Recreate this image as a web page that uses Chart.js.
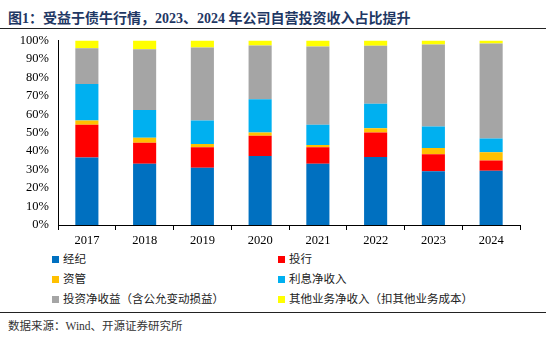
<!DOCTYPE html>
<html>
<head>
<meta charset="utf-8">
<script src="https://cdn.jsdelivr.net/npm/chart.js@4/dist/chart.umd.min.js"></script>
<style>
  body { margin: 0; background: #fff; }
  #wrap { position: relative; width: 550px; height: 341px; overflow: hidden; font-family: "Liberation Serif", "Noto Sans CJK SC", serif; }
  #title { position: absolute; left: 8px; top: 10px; font-size: 14px; font-weight: bold; color: #1F3864; white-space: nowrap; line-height: 18px; }
  .rule { position: absolute; left: 0; width: 546px; height: 1px; background: #222; }
  #chartBox { position: absolute; left: 0; top: 24px; width: 550px; height: 226px; }
  #legend { position: absolute; left: 52px; top: 250px; width: 480px; }
  .item { position: absolute; display: flex; align-items: center; font-size: 11.5px; color: #222; white-space: nowrap; line-height: 14px; }
  .box { width: 7px; height: 7px; margin-right: 4px; }
  #source { position: absolute; left: 8px; top: 317px; font-size: 11.5px; color: #333; white-space: nowrap; }
</style>
</head>
<body>
<div id="wrap">
  <div id="title">图1：受益于债牛行情，2023、2024 年公司自营投资收入占比提升</div>
  <div id="chartBox"><canvas id="myChart"></canvas></div>
  <div class="rule" style="top:28px"></div>
  <div id="legend"></div>
  <div class="rule" style="top:312px"></div>
  <div id="source">数据来源：Wind、开源证券研究所</div>
</div>
<script>
'use strict';

// categories and series (% of revenue)
let years = ['2017', '2018', '2019', '2020', '2021', '2022', '2023', '2024'];
let brokerage = [36.6, 33.2, 31.0, 37.4, 33.2, 36.8, 29.1, 29.4];
let banking = [17.7, 11.4, 11.1, 11.0, 9.0, 13.4, 9.3, 5.6];
let assetMgmt = [2.4, 2.7, 1.8, 1.8, 1.1, 2.3, 3.3, 4.4];
let interest = [19.7, 15.0, 12.8, 18.0, 11.0, 13.2, 11.7, 7.5];
let investment = [19.4, 33.0, 39.5, 29.1, 42.5, 31.4, 44.4, 51.5];
let other = [4.2, 4.7, 3.8, 2.7, 3.2, 2.9, 2.2, 1.6];

let seriesNames = ['经纪', '投行', '资管', '利息净收入', '投资净收益（含公允变动损益）', '其他业务净收入（扣其他业务成本）'];
let seriesData = [brokerage, banking, assetMgmt, interest, investment, other];
let seriesColors = ['#0070C0', '#FF0000', '#FFC000', '#00B0F0', '#A5A5A5', '#FFFF00'];

let yTicks = [0, 10, 20, 30, 40, 50, 60, 70, 80, 90, 100];

let datasets = [];
for (let i = 0; i < seriesNames.length; i++) {
  datasets.push({
    label: seriesNames[i],
    data: seriesData[i],
    backgroundColor: seriesColors[i],
    borderWidth: 0,
    barPercentage: 0.8,
    categoryPercentage: 0.5
  });
}

let tickFont = { family: '"Liberation Serif", "Times New Roman", serif', size: 12.5 };

let ctx = document.getElementById('myChart').getContext('2d');
new Chart(ctx, {
  type: 'bar',
  data: { labels: years, datasets: datasets },
  options: {
    responsive: true,
    maintainAspectRatio: false,
    animation: false,
    layout: { padding: { top: 4, right: 30, bottom: 0, left: 0 } },
    plugins: { legend: { display: false }, tooltip: { enabled: false } },
    scales: {
      x: {
        stacked: true,
        grid: { display: true, drawOnChartArea: false, offset: true, tickLength: 5, color: '#000' },
        border: { color: '#000', width: 1 },
        ticks: { color: '#000', font: tickFont, padding: 3 },
        afterFit: function (scale) { scale.height = 25; }
      },
      y: {
        stacked: true,
        min: 0,
        max: 100,
        grid: { display: false, drawTicks: false },
        border: { color: '#000', width: 1 },
        afterBuildTicks: function (scale) { scale.ticks = yTicks.map(v => ({ value: v })); },
        ticks: { color: '#000', font: tickFont, padding: 9, autoSkip: false, callback: v => v + '%' },
        afterFit: function (scale) { scale.width = 58; }
      }
    }
  }
});

// legend in two columns, built from the same names and colours
let legend = document.getElementById('legend');
for (let i = 0; i < seriesNames.length; i++) {
  let item = document.createElement('div');
  item.className = 'item';
  item.style.left = (i % 2 === 0 ? 0 : 226) + 'px';
  item.style.top = (Math.floor(i / 2) * 20 + 2) + 'px';
  item.innerHTML = '<span class="box" style="background:' + seriesColors[i] + '"></span><span>' + seriesNames[i] + '</span>';
  legend.appendChild(item);
}
</script>
</body>
</html>
